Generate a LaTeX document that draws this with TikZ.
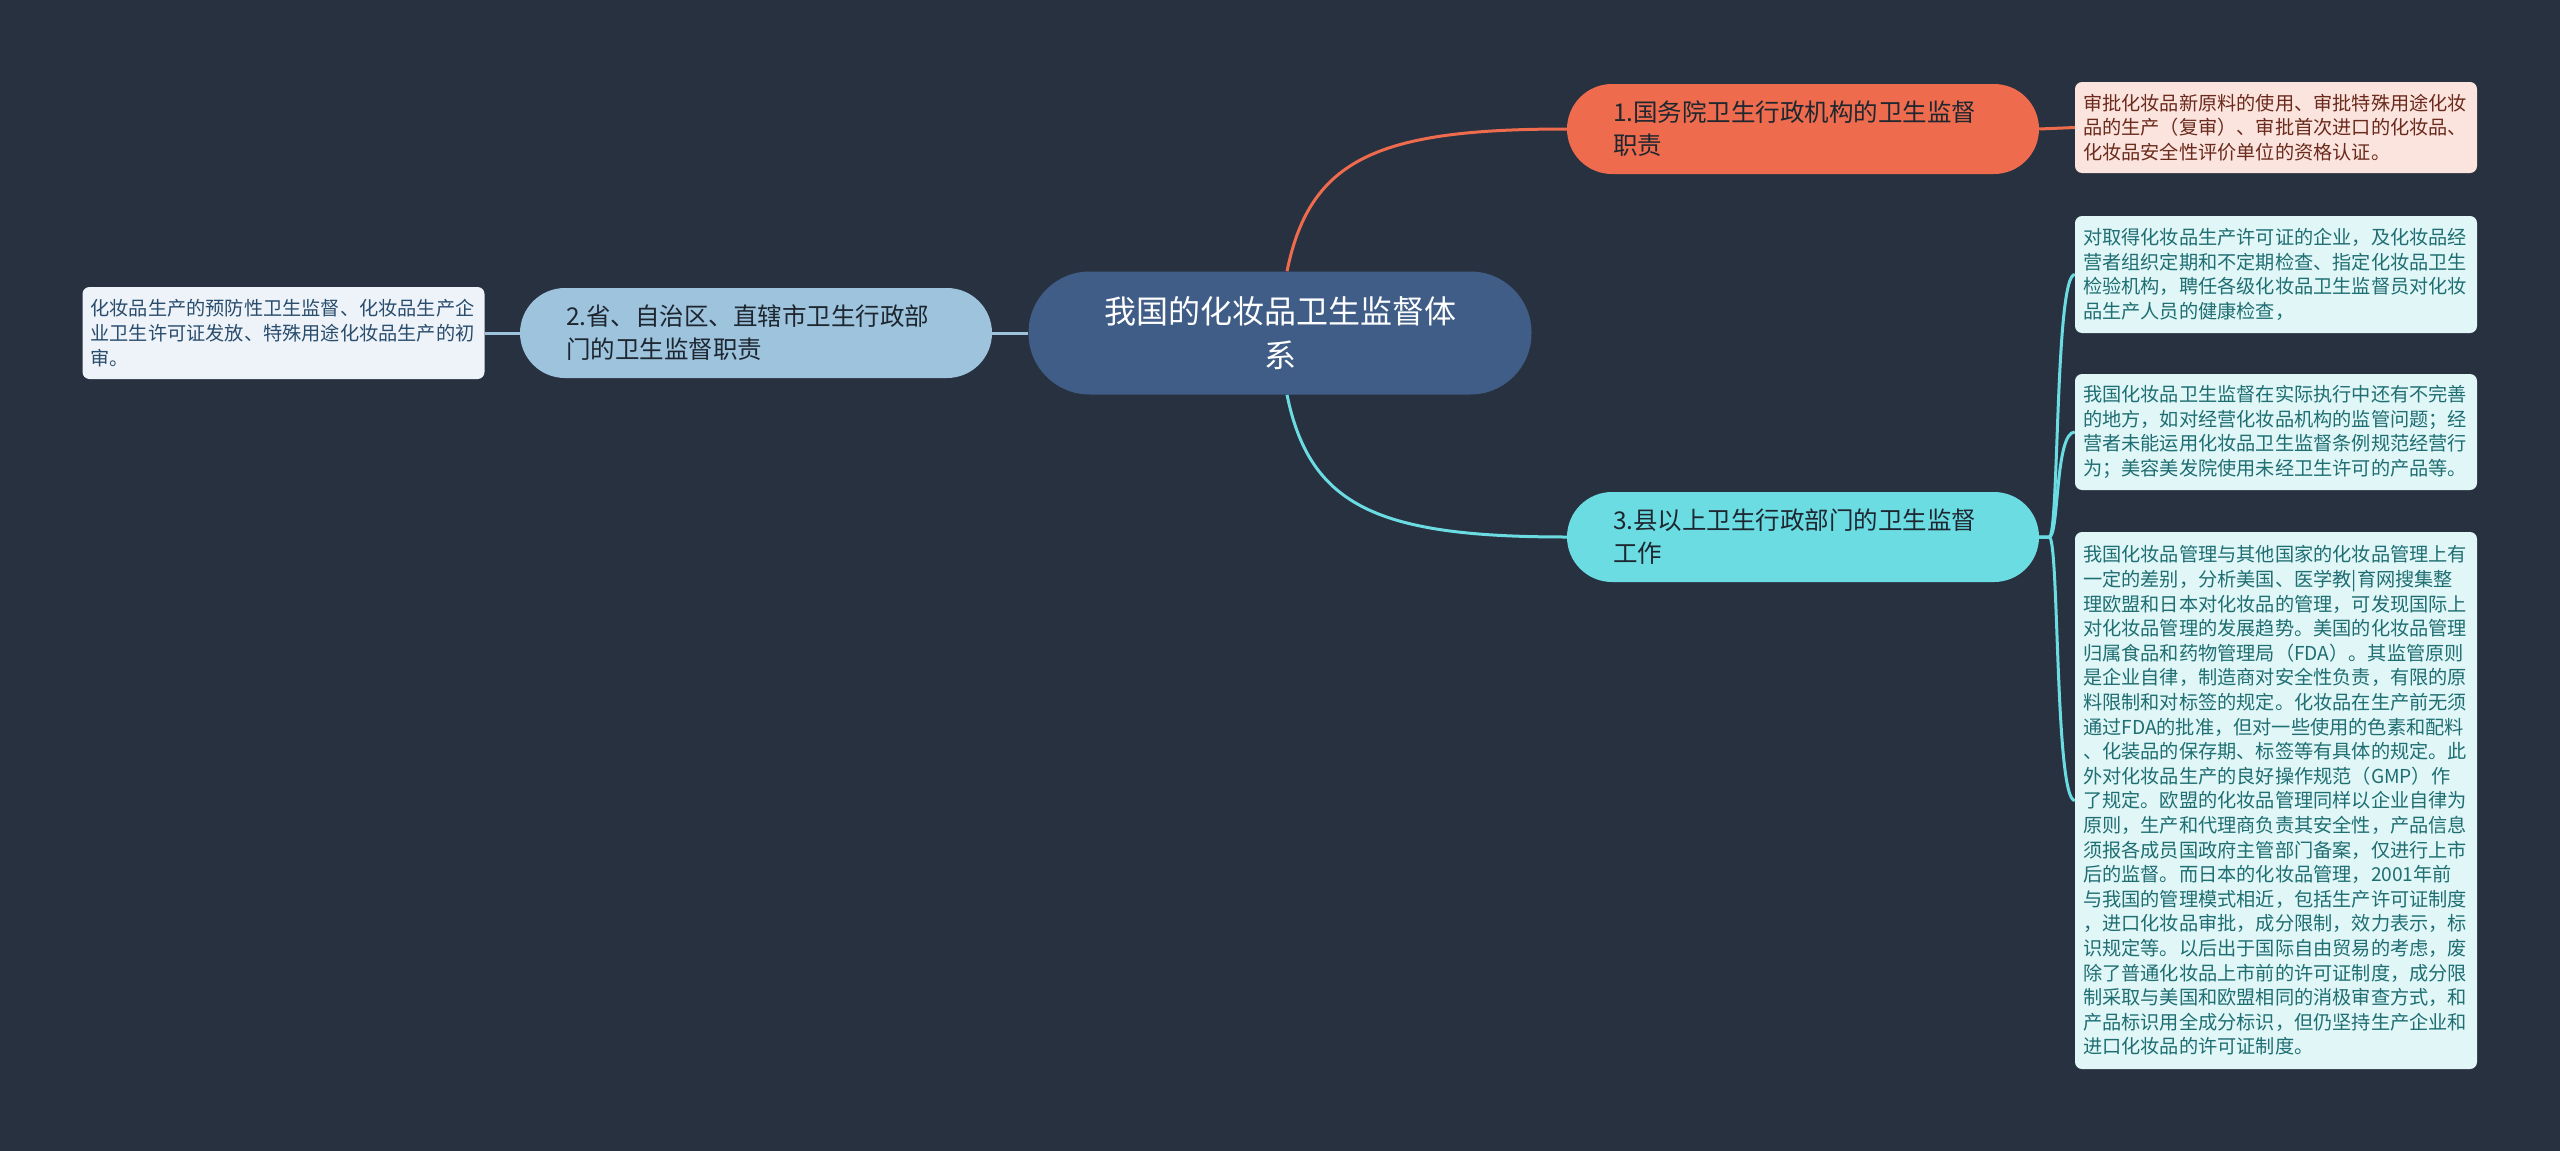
\documentclass[tikz,border=0pt]{standalone}
\usepackage{fontspec}
\setmainfont{Noto Sans CJK SC}
\usetikzlibrary{calc}
\pgfdeclarelayer{bg}
\pgfsetlayers{bg,main}
\definecolor{bgc}{HTML}{283140}
\definecolor{cmain}{HTML}{3F5D86}
\definecolor{cone}{HTML}{EE6C4D}
\definecolor{ctwo}{HTML}{9DC3DD}
\definecolor{cthree}{HTML}{6ADCE2}
\definecolor{lone}{HTML}{FCE4DE}
\definecolor{ltwo}{HTML}{EDF3F8}
\definecolor{lthree}{HTML}{E0F6F7}
\definecolor{tone}{HTML}{6A2A1C}
\definecolor{ttwo}{HTML}{2A4D6E}
\definecolor{tthree}{HTML}{1F6E72}
\definecolor{tdark}{HTML}{1E2630}
\begin{document}
\begin{tikzpicture}[x=1pt,y=-1pt,
  mainbox/.style={fill=cmain, text=white, minimum width=503pt, minimum height=123pt,
    rounded corners=61pt, align=center, font=\fontsize{32pt}{44pt}\selectfont},
  subbox/.style={minimum width=472pt, minimum height=90pt, rounded corners=45pt,
    text width=380pt, inner xsep=46pt, align=left, text=tdark,
    font=\fontsize{24.5pt}{33pt}\selectfont},
  leafbox/.style={text width=386pt, inner xsep=8pt, rounded corners=7pt, align=left,
    font=\fontsize{19.2pt}{24.6pt}\selectfont},
  link/.style={line width=3pt}
]
\useasboundingbox (0,0) rectangle (2560,1151);
\begin{pgfonlayer}{bg}
\fill[bgc] (0,0) rectangle (2560,1151);
\end{pgfonlayer}

\node[mainbox] (c) at (1280,333) {我国的化妆品卫生监督体\\系};

\node[subbox, fill=cone] (n1) at (1803,129) {1.国务院卫生行政机构的卫生监督\\职责};
\node[subbox, fill=ctwo] (n2) at (756,333) {2.省、自治区、直辖市卫生行政部\\门的卫生监督职责};
\node[subbox, fill=cthree] (n3) at (1803,537) {3.县以上卫生行政部门的卫生监督\\工作};

\node[leafbox, fill=lone, text=tone, minimum height=91pt] (p1) at (2276,127.5)
 {审批化妆品新原料的使用、审批特殊用途化妆\\品的生产（复审）、审批首次进口的化妆品、\\化妆品安全性评价单位的资格认证。};

\node[leafbox, fill=ltwo, text=ttwo, minimum height=92pt] (l0) at (283.5,333)
 {化妆品生产的预防性卫生监督、化妆品生产企\\业卫生许可证发放、特殊用途化妆品生产的初\\审。};

\node[leafbox, fill=lthree, text=tthree, minimum height=117pt] (p2) at (2276,274.5)
 {对取得化妆品生产许可证的企业，及化妆品经\\营者组织定期和不定期检查、指定化妆品卫生\\检验机构，聘任各级化妆品卫生监督员对化妆\\品生产人员的健康检查，};

\node[leafbox, fill=lthree, text=tthree, minimum height=116pt] (p3) at (2276,432)
 {我国化妆品卫生监督在实际执行中还有不完善\\的地方，如对经营化妆品机构的监管问题；经\\营者未能运用化妆品卫生监督条例规范经营行\\为；美容美发院使用未经卫生许可的产品等。};

\node[leafbox, fill=lthree, text=tthree, minimum height=537pt] (p4) at (2276,800.5)
 {我国化妆品管理与其他国家的化妆品管理上有\\一定的差别，分析美国、医学教|育网搜集整\\理欧盟和日本对化妆品的管理，可发现国际上\\对化妆品管理的发展趋势。美国的化妆品管理\\归属食品和药物管理局（FDA）。其监管原则\\是企业自律，制造商对安全性负责，有限的原\\料限制和对标签的规定。化妆品在生产前无须\\通过FDA的批准，但对一些使用的色素和配料\\、化装品的保存期、标签等有具体的规定。此\\外对化妆品生产的良好操作规范（GMP）作\\了规定。欧盟的化妆品管理同样以企业自律为\\原则，生产和代理商负责其安全性，产品信息\\须报各成员国政府主管部门备案，仅进行上市\\后的监督。而日本的化妆品管理，2001年前\\与我国的管理模式相近，包括生产许可证制度\\，进口化妆品审批，成分限制，效力表示，标\\识规定等。以后出于国际自由贸易的考虑，废\\除了普通化妆品上市前的许可证制度，成分限\\制采取与美国和欧盟相同的消极审查方式，和\\产品标识用全成分标识，但仍坚持生产企业和\\进口化妆品的许可证制度。};

\begin{pgfonlayer}{bg}
\draw[link, cone] ($(c.north)+(7,0)$) .. controls ($(c.north)+(30,-114)$) and ($(n1.west)+(-187,0)$) .. (n1.west);
\draw[link, cthree] ($(c.south)+(7,0)$) .. controls ($(c.south)+(30,113)$) and ($(n3.west)+(-187,0)$) .. (n3.west);
\draw[link, ctwo] (c.west) -- (n2.east);
\draw[link, ctwo] (n2.west) -- (l0.east);
\draw[link, cone] (n1.east) -- (p1.west);
\foreach \t in {p2,p3,p4}{
  \draw[link, cthree] (n3.east) -- ($(n3.east)+(10,0)$) .. controls ($(n3.east)+(20,0)$) and ($(\t.west)+(-20,0)$) .. (\t.west);
}
\end{pgfonlayer}
\end{tikzpicture}
\end{document}
